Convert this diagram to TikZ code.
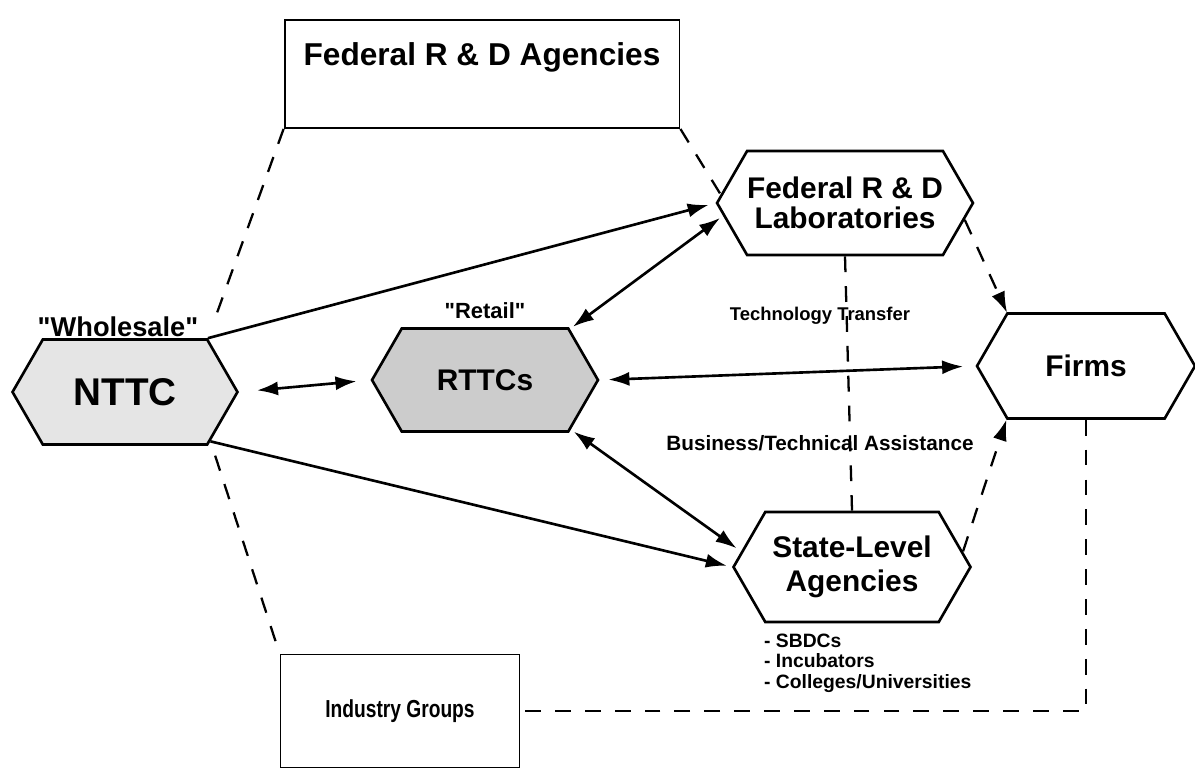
\documentclass[tikz,border=0pt]{standalone}
\usepackage{fontspec}
\setmainfont{Liberation Sans}[Ligatures=TeXOff]
\usetikzlibrary{shapes.symbols,arrows.meta,positioning}

\begin{document}
\begin{tikzpicture}[
    x=0.02cm, y=-0.02cm,
    >={Latex[length=12pt,width=8pt]},
    hex/.style={draw, signal, signal to=east and west, signal pointer angle=120, line width=1.5pt, inner sep=0pt, align=center, font=\bfseries\fontsize{17}{17}\selectfont},
    box/.style={draw, rectangle, line width=1.1pt, inner sep=0pt, font=\bfseries\fontsize{18}{20}\selectfont},
    tag/.style={inner sep=1pt, font=\bfseries\fontsize{11}{12}\selectfont},
    flow/.style={line width=1.5pt},
    link/.style={line width=1.3pt, dash pattern=on 9pt off 8pt}
]
\useasboundingbox (0,0) rectangle (1195,774);

% agencies and groups
\node[box, minimum width=7.9cm, minimum height=2.16cm, text depth=0.8cm] (fedag) at (482,74) {Federal R \& D Agencies};
\node[box, minimum width=4.78cm, minimum height=2.26cm, font=\bfseries\fontsize{14}{16}\selectfont] (indgr) at (400,711) {\scalebox{0.78}[1]{Industry Groups}};

% centers
\node[hex, fill=gray!20, minimum width=4.5cm, minimum height=2.1cm, font=\bfseries\fontsize{22}{22}\selectfont] (nttc) at (125,392) {NTTC};
\node[hex, fill=gray!40, minimum width=4.52cm, minimum height=2.06cm] (rttc) at (485,380) {RTTCs};
\node[hex, minimum width=4.9cm, minimum height=2.08cm] (fedlab) at (845,203) {Federal R \& D\\Laboratories};
\node[hex, minimum width=4.36cm, minimum height=2.1cm] (firms) at (1086,366) {Firms};
\node[hex, minimum width=4.74cm, minimum height=2.2cm, font=\bfseries\fontsize{17}{19}\selectfont] (state) at (852,567) {State-Level\\Agencies};

% labels
\node[tag, font=\bfseries\fontsize{15.5}{17}\selectfont] (whole) at (118,327) {"Wholesale"};
\node[tag, font=\bfseries\fontsize{12.5}{14}\selectfont] (retail) at (485,311) {"Retail"};
\node[tag, font=\bfseries\fontsize{10.5}{12}\selectfont] (techtr) at (820,316) {Technology Transfer};
\node[tag, font=\bfseries\fontsize{11.8}{12}\selectfont] (bizta) at (820,443) {Business/Technical Assistance};
\node[tag, anchor=north west, align=left, font=\bfseries\fontsize{11}{11.6}\selectfont] (kinds) at (762,632) {- SBDCs\\- Incubators\\- Colleges/Universities};

% solid flows
\draw[flow, ->, shorten >=4pt] (nttc.33) -- (fedlab.west);
\draw[flow, ->, shorten >=3pt] (nttc.-30) -- (state.west);
\draw[flow, <->, shorten <=0.36cm, shorten >=0.28cm] (nttc.east) -- (rttc.west);
\draw[flow, <->, shorten <=2pt, shorten >=2pt] (rttc.31) -- (fedlab.186);
\draw[flow, <->, shorten <=5pt, shorten >=7pt] (rttc.east) -- (firms.west);
\draw[flow, <->, shorten <=2pt, shorten >=3pt] (rttc.-30) -- (state.172);

% dashed links
\draw[link, shorten >=0.5cm] (fedag.south west) -- (nttc.33);
\draw[link] (fedag.south east) -- (fedlab.176);
\draw[link, shorten <=0.3cm] (nttc.-30) -- (indgr.north west);
\draw[link] (fedlab.south) -- (state.north);
\draw[link, ->] (fedlab.-8) -- (firms.146);
\draw[link, ->] (state.8) -- (firms.-146);
\draw[link] (firms.south) |- (indgr.east);
\end{tikzpicture}
\end{document}
